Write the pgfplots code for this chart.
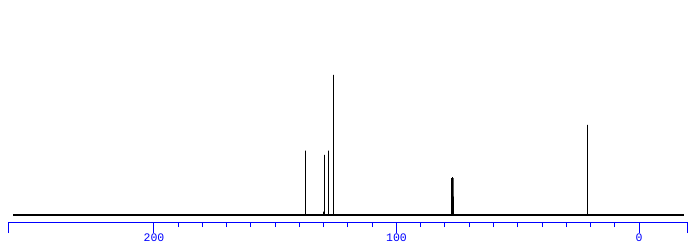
\documentclass[border=0pt]{standalone}
\usepackage{fontspec}
\setmainfont{Liberation Mono}
\usepackage{pgfplots}
\pgfplotsset{compat=1.18}
\definecolor{tkblue}{RGB}{0,0,255}
\begin{document}
\begin{tikzpicture}
\begin{axis}[
  name=ax,
  scale only axis,
  width=679pt, height=222pt,
  x dir=reverse,
  xmin=-20, xmax=260,
  ymin=0, ymax=222,
  axis x line*=bottom,
  hide y axis,
  axis line style={tkblue, line width=1pt},
  xtick={0,100,200},
  extra x ticks={260,-20},
  extra x tick labels={},
  minor x tick num=9,
  tick align=outside,
  major tick length=11pt,
  minor tick length=5pt,
  every tick/.style={tkblue, line width=1pt},
  every extra x tick/.style={major tick length=11pt},
  xticklabel style={font=\fontsize{11.5}{11.5}\selectfont, text=tkblue, inner sep=0pt, yshift=-1pt},
  /pgf/number format/assume math mode=true,
  clip=false,
]
% baseline
\addplot[black, line width=1.4pt] coordinates {(258,7) (-18.4,7)};
% peaks
\addplot[black, line width=1pt] coordinates {
 (137.6,7) (137.6,71.3) (137.6,7)
 (130.2,7) (130.2,10.3) (130.2,7)
 (129.8,7) (129.8,67) (129.8,7)
 (128.1,7) (128.1,71.3) (128.1,7)
 (126.1,7) (126.1,147) (126.1,7)
 (77.4,7) (77.4,44) (77.4,7)
 (77.0,7) (77.0,45) (77.0,7)
 (76.7,7) (76.7,44) (76.7,7)
 (21.3,7) (21.3,97) (21.3,7)
};
\end{axis}
\pgfresetboundingbox
\path[use as bounding box] ([shift={(-8.5pt,-24pt)}]ax.south west) rectangle ([shift={(9.5pt,0pt)}]ax.north east);
\end{tikzpicture}
\end{document}
